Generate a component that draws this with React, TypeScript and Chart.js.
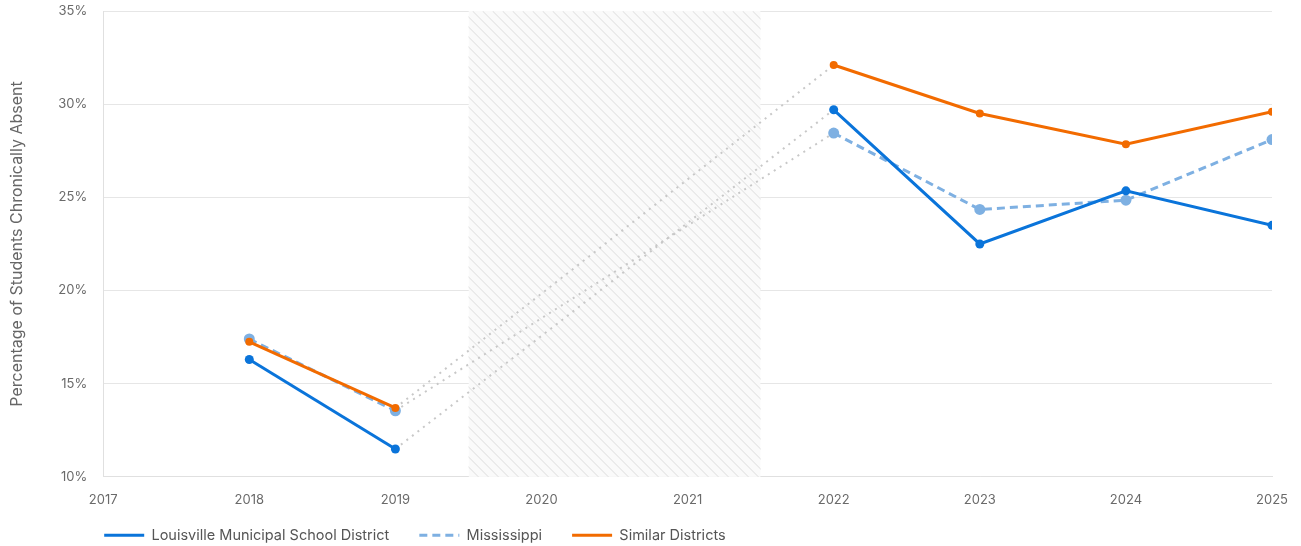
import React, { useEffect, useRef } from "react";
import { Chart, registerables } from "chart.js";

Chart.register(...registerables);

const years = [2018, 2019, 2022, 2023, 2024, 2025];
const louisville = [16.3, 11.5, 29.7, 22.5, 25.35, 23.5];
const mississippi = [17.4, 13.55, 28.45, 24.35, 24.85, 28.1];
const similar = [17.25, 13.7, 32.1, 29.5, 27.85, 29.6];
const seriesNames = ["Louisville Municipal School District", "Mississippi", "Similar Districts"];
const covidStart = 2019.5;
const covidEnd = 2021.5;

const FONT = "Inter, 'Noto Sans', sans-serif";

const toPoints = (vals: number[]) => years.map((x, i) => ({ x, y: vals[i] }));

const isGap = (ctx: any) => ctx.p1.parsed.x - ctx.p0.parsed.x > 1;

const hatchPlugin = {
  id: "hatch",
  beforeDatasetsDraw(chart: any) {
    const { ctx, chartArea, scales } = chart;
    const x0 = scales.x.getPixelForValue(covidStart);
    const x1 = scales.x.getPixelForValue(covidEnd);
    const top = chartArea.top;
    const bottom = chartArea.bottom;
    ctx.save();
    ctx.beginPath();
    ctx.rect(x0, top, x1 - x0, bottom - top);
    ctx.clip();
    ctx.fillStyle = "#fafafa";
    ctx.fillRect(x0, top, x1 - x0, bottom - top);
    ctx.strokeStyle = "#dcdcdc";
    ctx.lineWidth = 1;
    const h = bottom - top;
    for (let s = x0 - h; s < x1 + 10; s += 10) {
      ctx.beginPath();
      ctx.moveTo(s, top);
      ctx.lineTo(s + h, bottom);
      ctx.stroke();
    }
    ctx.restore();
  },
};

const legendShift = {
  id: "legendShift",
  afterLayout(chart: any) {
    const lg = chart.legend;
    if (lg) {
      const pad = lg.options.labels.padding;
      const w = lg.right - lg.left;
      const h = lg.bottom - lg.top;
      lg.left = chart.chartArea.left + 1 - pad;
      lg.right = lg.left + w;
      lg.top = chart.chartArea.bottom + 21;
      lg.bottom = lg.top + h;
    }
  },
};

export default function App() {
  const ref = useRef<HTMLCanvasElement | null>(null);
  useEffect(() => {
    if (!ref.current) return;
    const mk = (label: string, vals: number[], color: string, opts: any) => ({
      label,
      data: toPoints(vals),
      borderColor: color,
      backgroundColor: color,
      pointBackgroundColor: color,
      pointBorderWidth: 0,
      borderWidth: 3,
      ...opts,
      segment: {
        borderColor: (ctx: any) => (isGap(ctx) ? "#c8c8c8" : undefined),
        borderDash: (ctx: any) => (isGap(ctx) ? [2, 5] : undefined),
        borderWidth: (ctx: any) => (isGap(ctx) ? 2 : undefined),
      },
    });
    const chart = new Chart(ref.current, {
      type: "line",
      data: {
        datasets: [
          mk(seriesNames[0], louisville, "#0a74da", { pointRadius: 4.5, order: 0 }),
          mk(seriesNames[1], mississippi, "#7eb0e2", { pointRadius: 5.5, borderDash: [8, 5], order: 2 }),
          mk(seriesNames[2], similar, "#f26b00", { pointRadius: 4, order: 1 }),
        ],
      },
      options: {
        animation: false,
        responsive: true,
        maintainAspectRatio: false,
        layout: { padding: { top: 11, right: 29, left: 8, bottom: -31 } },
        plugins: {
          legend: {
            position: "bottom",
            align: "start",
            labels: {
              usePointStyle: true,
              pointStyle: "line",
              pointStyleWidth: 40,
              boxWidth: 40,
              padding: 30,
              color: "#555",
              font: { family: FONT, size: 14.5 },
              generateLabels: (chart: any) =>
                chart.data.datasets.map((ds: any, i: number) => ({
                  text: ds.label,
                  fillStyle: ds.borderColor,
                  strokeStyle: ds.borderColor,
                  lineWidth: 3,
                  lineDash: ds.borderDash || [],
                  pointStyle: "line",
                  fontColor: "#555",
                  hidden: false,
                  datasetIndex: i,
                })),
            },
          },
          tooltip: { enabled: false },
        },
        scales: {
          x: {
            type: "linear",
            min: 2017,
            max: 2025,
            afterFit: (scale: any) => {
              scale.paddingRight = 0;
              scale.paddingLeft = 0;
            },
            ticks: {
              stepSize: 1,
              padding: 15,
              color: "#6a6a6a",
              font: { family: FONT, size: 13 },
              callback: (v: any) => String(v),
            },
            grid: { display: false, drawTicks: false },
            border: { display: true, color: "#e0e0e0", width: 1 },
          },
          y: {
            min: 10,
            max: 35,
            afterFit: (scale: any) => {
              scale.paddingTop = 0;
              scale.paddingBottom = 0;
            },
            ticks: {
              stepSize: 5,
              padding: 16,
              color: "#6a6a6a",
              font: { family: FONT, size: 13 },
              callback: (v: any) => `${v}%`,
            },
            grid: { color: "#e6e6e6", drawTicks: false },
            border: { display: true, color: "#e0e0e0" },
            title: {
              display: true,
              text: "Percentage of Students Chronically Absent",
              color: "#666",
              font: { family: FONT, size: 16 },
              padding: { top: 0, bottom: 15 },
            },
          },
        },
      },
      plugins: [hatchPlugin, legendShift],
    });
    return () => chart.destroy();
  }, []);
  return (
    <div style={{ position: "absolute", left: 0, top: 0, width: 1301, height: 546 }}>
      <canvas ref={ref} />
    </div>
  );
}
